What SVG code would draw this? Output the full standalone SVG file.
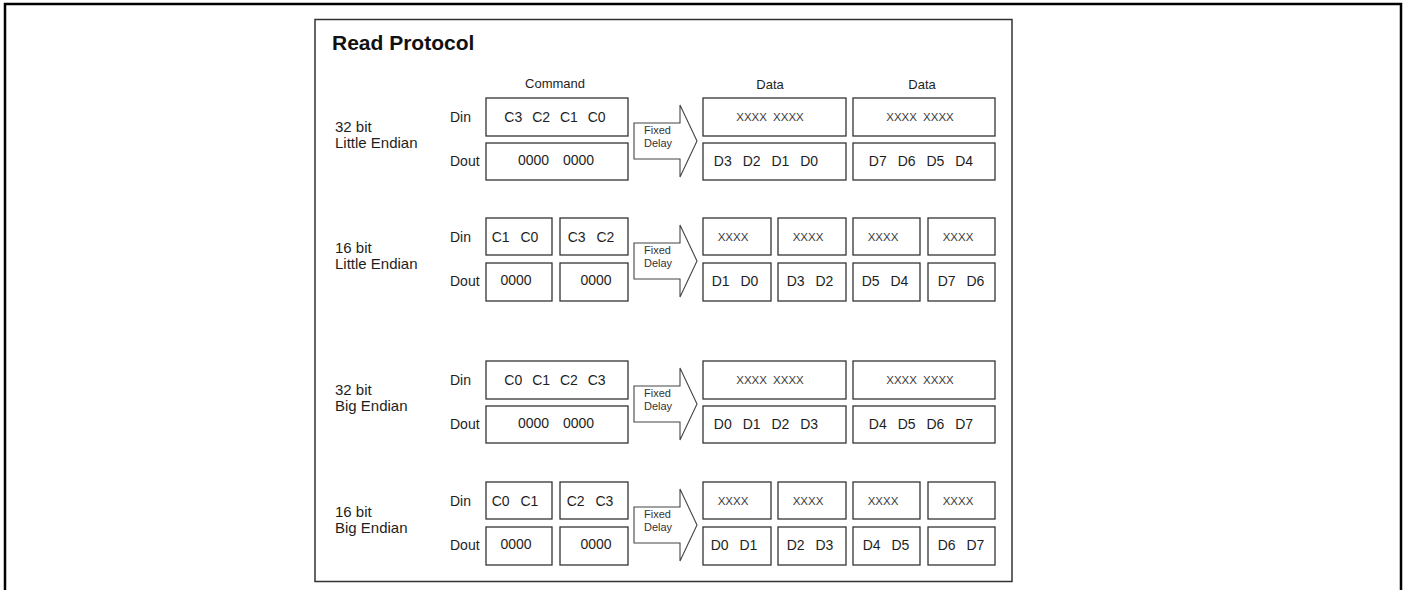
<svg xmlns="http://www.w3.org/2000/svg" width="1404" height="590" viewBox="0 0 1404 590">
<style>
text{font-family:"Liberation Sans",Arial,sans-serif;fill:#1e1e1e}
.title{font-size:21px;font-weight:bold;fill:#111}
.lbl{font-size:15px}
.pin{font-size:14px}
.hdr{font-size:13px}
.bx{fill:#fff;stroke:#333;stroke-width:1.3}
.t{font-size:14px;text-anchor:middle}
.x{font-size:11.5px;text-anchor:middle;fill:#3a3a3a;word-spacing:3px}
.w4{word-spacing:6px}
.w4d{word-spacing:7px}
.w0{word-spacing:10px}
.w2{word-spacing:7px}
.arr{fill:#fff;stroke:#444;stroke-width:1.1}
.fd{font-size:11px;fill:#333}
</style>
<rect x="5" y="4" width="1396" height="600" fill="none" stroke="#000" stroke-width="2.5"/>
<rect id="frame" x="315" y="19.5" width="697" height="562" fill="#fff" stroke="#333" stroke-width="1.5"/>
<g id="title"><text class="title" x="332" y="50">Read Protocol</text></g>
<g id="headers">
<text class="hdr" x="555" y="88" text-anchor="middle">Command</text>
<text class="hdr" x="770" y="89" text-anchor="middle">Data</text>
<text class="hdr" x="922" y="89" text-anchor="middle">Data</text>
</g>

<g id="row1-32bit-little" transform="translate(0,98)">
<g id="r1-label"><text class="lbl" x="335" y="34">32 bit</text><text class="lbl" x="335" y="50">Little Endian</text></g>
<g id="r1-pins"><text class="pin" x="450" y="24">Din</text><text class="pin" x="450" y="68">Dout</text></g>
<g id="r1-cmd-din"><rect class="bx" x="486" y="0" width="142" height="38"/><text class="t w4" x="555" y="24">C3 C2 C1 C0</text></g>
<g id="r1-cmd-dout"><rect class="bx" x="486" y="45" width="142" height="37"/><text class="t w0" x="556" y="67">0000 0000</text></g>
<g id="r1-d1-din"><rect class="bx" x="703" y="0" width="143" height="38"/><text class="x" x="770" y="23">XXXX XXXX</text></g>
<g id="r1-d2-din"><rect class="bx" x="853" y="0" width="142" height="38"/><text class="x" x="920" y="23">XXXX XXXX</text></g>
<g id="r1-d1-dout"><rect class="bx" x="703" y="45" width="143" height="37"/><text class="t w4d" x="766" y="68">D3 D2 D1 D0</text></g>
<g id="r1-d2-dout"><rect class="bx" x="853" y="45" width="142" height="37"/><text class="t w4d" x="921" y="68">D7 D6 D5 D4</text></g>
</g>

<g id="row2-16bit-little" transform="translate(0,218)">
<g id="r2-label"><text class="lbl" x="335" y="35">16 bit</text><text class="lbl" x="335" y="51">Little Endian</text></g>
<g id="r2-pins"><text class="pin" x="450" y="24">Din</text><text class="pin" x="450" y="68">Dout</text></g>
<g id="r2-c1-din"><rect class="bx" x="486" y="0" width="66" height="37"/><text class="t w2" x="515" y="24">C1 C0</text></g>
<g id="r2-c2-din"><rect class="bx" x="560" y="0" width="68" height="37"/><text class="t w2" x="591" y="24">C3 C2</text></g>
<g id="r2-c1-dout"><rect class="bx" x="486" y="45" width="66" height="38"/><text class="t" x="516" y="67">0000</text></g>
<g id="r2-c2-dout"><rect class="bx" x="560" y="45" width="68" height="38"/><text class="t" x="596" y="67">0000</text></g>
<g id="r2-d1-din"><rect class="bx" x="703" y="0" width="68" height="37"/><text class="x" x="733" y="23">XXXX</text></g>
<g id="r2-d2-din"><rect class="bx" x="778" y="0" width="68" height="37"/><text class="x" x="808" y="23">XXXX</text></g>
<g id="r2-d3-din"><rect class="bx" x="853" y="0" width="67" height="37"/><text class="x" x="883" y="23">XXXX</text></g>
<g id="r2-d4-din"><rect class="bx" x="928" y="0" width="67" height="37"/><text class="x" x="958" y="23">XXXX</text></g>
<g id="r2-d1-dout"><rect class="bx" x="703" y="45" width="68" height="38"/><text class="t w2" x="735" y="68">D1 D0</text></g>
<g id="r2-d2-dout"><rect class="bx" x="778" y="45" width="68" height="38"/><text class="t w2" x="810" y="68">D3 D2</text></g>
<g id="r2-d3-dout"><rect class="bx" x="853" y="45" width="67" height="38"/><text class="t w2" x="885" y="68">D5 D4</text></g>
<g id="r2-d4-dout"><rect class="bx" x="928" y="45" width="67" height="38"/><text class="t w2" x="961" y="68">D7 D6</text></g>
</g>

<g id="row3-32bit-big" transform="translate(0,361)">
<g id="r3-label"><text class="lbl" x="335" y="34">32 bit</text><text class="lbl" x="335" y="50">Big Endian</text></g>
<g id="r3-pins"><text class="pin" x="450" y="24">Din</text><text class="pin" x="450" y="68">Dout</text></g>
<g id="r3-cmd-din"><rect class="bx" x="486" y="0" width="142" height="38"/><text class="t w4" x="555" y="24">C0 C1 C2 C3</text></g>
<g id="r3-cmd-dout"><rect class="bx" x="486" y="45" width="142" height="37"/><text class="t w0" x="556" y="67">0000 0000</text></g>
<g id="r3-d1-din"><rect class="bx" x="703" y="0" width="143" height="38"/><text class="x" x="770" y="23">XXXX XXXX</text></g>
<g id="r3-d2-din"><rect class="bx" x="853" y="0" width="142" height="38"/><text class="x" x="920" y="23">XXXX XXXX</text></g>
<g id="r3-d1-dout"><rect class="bx" x="703" y="45" width="143" height="37"/><text class="t w4d" x="766" y="68">D0 D1 D2 D3</text></g>
<g id="r3-d2-dout"><rect class="bx" x="853" y="45" width="142" height="37"/><text class="t w4d" x="921" y="68">D4 D5 D6 D7</text></g>
</g>

<g id="row4-16bit-big" transform="translate(0,482)">
<g id="r4-label"><text class="lbl" x="335" y="35">16 bit</text><text class="lbl" x="335" y="51">Big Endian</text></g>
<g id="r4-pins"><text class="pin" x="450" y="24">Din</text><text class="pin" x="450" y="68">Dout</text></g>
<g id="r4-c1-din"><rect class="bx" x="486" y="0" width="66" height="37"/><text class="t w2" x="515" y="24">C0 C1</text></g>
<g id="r4-c2-din"><rect class="bx" x="560" y="0" width="68" height="37"/><text class="t w2" x="590" y="24">C2 C3</text></g>
<g id="r4-c1-dout"><rect class="bx" x="486" y="45" width="66" height="38"/><text class="t" x="516" y="67">0000</text></g>
<g id="r4-c2-dout"><rect class="bx" x="560" y="45" width="68" height="38"/><text class="t" x="596" y="67">0000</text></g>
<g id="r4-d1-din"><rect class="bx" x="703" y="0" width="68" height="37"/><text class="x" x="733" y="23">XXXX</text></g>
<g id="r4-d2-din"><rect class="bx" x="778" y="0" width="68" height="37"/><text class="x" x="808" y="23">XXXX</text></g>
<g id="r4-d3-din"><rect class="bx" x="853" y="0" width="67" height="37"/><text class="x" x="883" y="23">XXXX</text></g>
<g id="r4-d4-din"><rect class="bx" x="928" y="0" width="67" height="37"/><text class="x" x="958" y="23">XXXX</text></g>
<g id="r4-d1-dout"><rect class="bx" x="703" y="45" width="68" height="38"/><text class="t w2" x="734" y="68">D0 D1</text></g>
<g id="r4-d2-dout"><rect class="bx" x="778" y="45" width="68" height="38"/><text class="t w2" x="810" y="68">D2 D3</text></g>
<g id="r4-d3-dout"><rect class="bx" x="853" y="45" width="67" height="38"/><text class="t w2" x="886" y="68">D4 D5</text></g>
<g id="r4-d4-dout"><rect class="bx" x="928" y="45" width="67" height="38"/><text class="t w2" x="961" y="68">D6 D7</text></g>
</g>

<g id="connectors">
<g id="delay1" transform="translate(0,98)"><path class="arr" d="M634 25H680V7L697 43L680 79V61H634Z"/><text class="fd" x="644" y="36">Fixed</text><text class="fd" x="644" y="49">Delay</text></g>
<g id="delay2" transform="translate(0,218)"><path class="arr" d="M634 25H680V7L697 43L680 79V61H634Z"/><text class="fd" x="644" y="36">Fixed</text><text class="fd" x="644" y="49">Delay</text></g>
<g id="delay3" transform="translate(0,361)"><path class="arr" d="M634 25H680V7L697 43L680 79V61H634Z"/><text class="fd" x="644" y="36">Fixed</text><text class="fd" x="644" y="49">Delay</text></g>
<g id="delay4" transform="translate(0,482)"><path class="arr" d="M634 25H680V7L697 43L680 79V61H634Z"/><text class="fd" x="644" y="36">Fixed</text><text class="fd" x="644" y="49">Delay</text></g>
</g>
</svg>
